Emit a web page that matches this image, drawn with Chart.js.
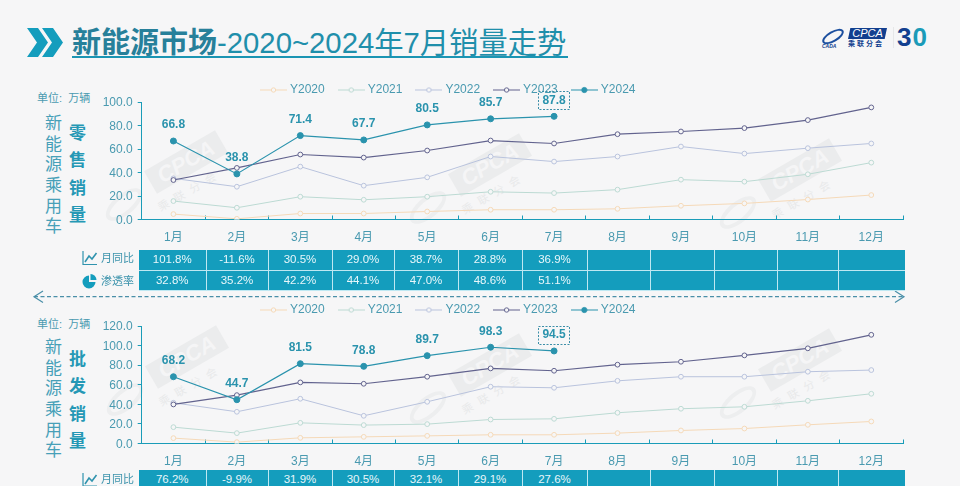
<!DOCTYPE html>
<html>
<head>
<meta charset="utf-8">
<title>新能源市场</title>
<script src="https://cdn.jsdelivr.net/npm/chart.js@4/dist/chart.umd.min.js"></script>
<style>
  html, body { margin: 0; padding: 0; background: #f6f6f7; }
  body { position: relative; width: 960px; height: 486px; overflow: hidden;
         font-family: "Liberation Sans", "Noto Sans CJK SC", sans-serif; color: #3c93ac; }
  .abs { position: absolute; }
  canvas { position: absolute; left: 0; }
  #chartRetail { top: 64px; }
  #chartWholesale { top: 288px; }

  /* title */
  #title { left: 72px; top: 23px; font-size: 29.3px; line-height: 40px; white-space: nowrap;
    color: #1f8fab; border-bottom: 2px solid #1b95b3; height: 33px; width: 496px; }
  #title b { color: #27809a; font-size: 29px; }

  /* logo */
  #logoBox { left: 848px; top: 28px; width: 39px; height: 11px; background: #123f8f; color: #fff;
    font: italic 11px/11px "Liberation Sans"; text-align: center;
    clip-path: polygon(6% 0, 100% 0, 94% 100%, 0 100%); }
  #logoCn { left: 848px; top: 40px; width: 36px; font-size: 7px; line-height: 8px; color: #123f8f;
    font-weight: bold; letter-spacing: 2px; white-space: nowrap; }
  #logoSwoosh { left: 821px; top: 31px; width: 20px; height: 7px; border: 2px solid #1c4f9f;
    border-radius: 50%; transform: rotate(-30deg); }
  #logoE { left: 822px; top: 43px; font: italic bold 5px/6px "Liberation Sans"; color: #123f8f; }
  #logoLine { left: 893px; top: 27px; width: 1px; height: 21px; background: #e6e7e8; }
  #logo30 { left: 897px; top: 25px; font: bold 26px/24px "Liberation Sans"; color: #123f8f; letter-spacing: 1px; }
  #logo30 i { font-style: normal; color: #1b9bb8; }

  /* left side captions */
  .unit { left: 37px; font-size: 11px; line-height: 13px; color: #4a9ab0; white-space: nowrap; }
  .vert { writing-mode: vertical-rl; white-space: nowrap; }
  .car { left: 42px; font-size: 17px; letter-spacing: 3.7px; line-height: 18px; color: #47a0b8; }
  .kind { left: 66px; font-size: 17px; font-weight: bold; letter-spacing: 10.4px; line-height: 18px; color: #2598b5; }

  /* monthly tables */
  table.rates { position: absolute; left: 139px; border-collapse: collapse; table-layout: fixed; width: 766px; }
  table.rates td { background: #149dbd; color: #e8f7fb; border: 1px solid #bfe8f2; border-top-width: 0;
    font-size: 11.5px; text-align: center; padding: 0; height: 19.5px; line-height: 19px; }
  table.rates tr:first-child td { border-top: 0; }
  table.rates td:first-child { border-left: 0; }
  table.rates td:last-child { border-right: 0; }
  .rowname { left: 101px; font-size: 11px; line-height: 14px; color: #3c93ac; white-space: nowrap; }

  .mark { left: 0; top: 0; }

  /* grey CPCA stamps behind the plots */
  .wm { position: absolute; width: 82px; height: 26px; background: #ebeced; color: #f5f5f6;
    font: italic bold 22px/26px "Liberation Sans"; text-align: center; transform: rotate(-30deg); }
  .wmCn { position: absolute; font-size: 11px; line-height: 12px; color: #e8e9ea; letter-spacing: 7px;
    transform: rotate(-30deg); white-space: nowrap; }
  .wmRing { position: absolute; width: 36px; height: 13px; border: 4px solid #edeeef; border-radius: 50%;
    transform: rotate(-40deg); }
</style>
</head>
<body>
<div id="stamps"></div>

<div id="title" class="abs"><b>新能源市场</b>-2020~2024年7月销量走势</div>

<div id="logoSwoosh" class="abs"></div>
<div id="logoE" class="abs">CADA</div>
<div id="logoBox" class="abs">CPCA</div>
<div id="logoCn" class="abs">乘联分会</div>
<div id="logoLine" class="abs"></div>
<div id="logo30" class="abs">3<i>0</i></div>

<div class="abs unit" style="top:92px">单位:&nbsp; 万辆</div>
<div class="abs vert car" style="top:114px">新能源乘用车</div>
<div class="abs vert kind" style="top:124px">零售销量</div>
<div class="abs unit" style="top:318px">单位:&nbsp; 万辆</div>
<div class="abs vert car" style="top:338px">新能源乘用车</div>
<div class="abs vert kind" style="top:350px">批发销量</div>

<canvas id="chartRetail" width="960" height="181"></canvas>
<canvas id="chartWholesale" width="960" height="181"></canvas>

<!-- chevrons, row icons and the double arrow between the two panels -->
<svg class="abs mark" width="960" height="486">
  <path d="M27 28H38L48 42.5L38 57H27L37 42.5ZM42 28H53L63 42.5L53 57H42L52 42.5Z" fill="#149dbd"/>
  <g fill="none" stroke="#2f93ae" stroke-width="1.2">
    <path d="M83 251V264.5H97"/>
    <path d="M85 262L89 256L92 259L96.5 253" stroke-width="1.6"/>
    <path d="M83 473V486H97"/>
    <path d="M85 484L89 478L92 481L96.5 475" stroke-width="1.6"/>
    <path d="M34 296.7H903" stroke-dasharray="4 2.5" stroke="#4a8fa8"/>
    <path d="M43 291L34 296.7L43 302.5M895 291L904 296.7L895 302.5" stroke="#4a8fa8"/>
  </g>
  <path d="M89 275.5A6.5 6.5 0 1 0 95.5 282H89Z" fill="#149dbd"/>
  <path d="M90.5 274A6 6 0 0 1 96.5 280H90.5Z" fill="#149dbd"/>
</svg>
<div class="abs rowname" style="top:251px">月同比</div>
<div class="abs rowname" style="top:274px">渗透率</div>
<div class="abs rowname" style="top:472px">月同比</div>

<table class="rates" id="tableRetail" style="top:250px"></table>
<table class="rates" id="tableWholesale" style="top:470px"></table>

<script>
/* ---------- data ---------- */
const months = ['1月', '2月', '3月', '4月', '5月', '6月', '7月', '8月', '9月', '10月', '11月', '12月'];
const seriesNames = ['Y2020', 'Y2021', 'Y2022', 'Y2023', 'Y2024'];

const retail2020 = [4.6, 0.6, 5.1, 5.1, 6.8, 8.3, 8.3, 9.1, 11.7, 13.7, 17.0, 20.8];
const retail2021 = [15.7, 10.0, 19.4, 16.8, 19.4, 23.6, 22.5, 25.4, 33.9, 32.2, 38.5, 48.4];
const retail2022 = [35.0, 27.9, 45.0, 28.8, 35.9, 53.6, 49.3, 53.6, 62.1, 56.1, 60.7, 64.7];
const retail2023 = [33.6, 43.9, 55.3, 52.7, 58.7, 67.2, 64.7, 72.6, 74.9, 77.8, 84.6, 95.4];
const retail2024 = [66.8, 38.8, 71.4, 67.7, 80.5, 85.7, 87.8];

const whole2020 = [5.5, 1.4, 5.8, 6.8, 7.8, 8.9, 8.9, 10.6, 13.3, 15.3, 19.1, 22.5];
const whole2021 = [16.7, 10.6, 21.1, 18.8, 19.8, 24.5, 25.2, 31.4, 35.5, 37.5, 43.6, 50.8];
const whole2022 = [41.6, 32.4, 45.7, 28.3, 42.6, 58.0, 56.9, 64.0, 68.2, 68.2, 73.3, 75.0];
const whole2023 = [39.9, 49.4, 62.4, 61.0, 68.2, 76.7, 74.3, 80.5, 83.5, 90.0, 97.2, 111.0];
const whole2024 = [68.2, 44.7, 81.5, 78.8, 89.7, 98.3, 94.5];

const retailYoy = ['101.8%', '-11.6%', '30.5%', '29.0%', '38.7%', '28.8%', '36.9%'];
const retailShare = ['32.8%', '35.2%', '42.2%', '44.1%', '47.0%', '48.6%', '51.1%'];
const wholeYoy = ['76.2%', '-9.9%', '31.9%', '30.5%', '32.1%', '29.1%', '27.6%'];

/* ---------- styles ---------- */
const FONT = '"Liberation Sans", "Noto Sans CJK SC", sans-serif';
const TEAL = '#1a9cb8';
const TEXT = '#4a9ab0';
const lineColors = ['#f5d9b8', '#bcdad3', '#b9c3dd', '#62638e', '#2a93ad'];
const cellWidths = [67, 62, 64, 62, 64, 64, 65, 63, 64, 63, 61, 67];
const stampCentres = [[186, 162], [490, 165], [800, 170], [187, 357], [490, 365], [800, 360]];

/* legend swatch: short line with the marker in the middle */
function swatch(color, filled) {
  const c = document.createElement('canvas');
  c.width = 27; c.height = 10;
  const x = c.getContext('2d');
  x.strokeStyle = color;
  x.beginPath(); x.moveTo(0, 5); x.lineTo(27, 5); x.stroke();
  x.beginPath(); x.arc(13.5, 5, filled ? 2.6 : 2.2, 0, Math.PI * 2);
  x.fillStyle = filled ? color : '#f6f6f7';
  x.fill(); x.stroke();
  return c;
}

/* value labels over the Y2024 line, the last one gets a dashed box */
const valueLabels = {
  id: 'valueLabels',
  afterDatasetsDraw(chart) {
    const { ctx } = chart;
    const meta = chart.getDatasetMeta(4);
    const values = chart.data.datasets[4].data;
    ctx.save();
    ctx.font = 'bold 12px ' + FONT;
    ctx.fillStyle = '#2a93ad';
    ctx.textAlign = 'center';
    ctx.textBaseline = 'middle';
    meta.data.forEach((pt, i) => {
      const y = pt.y - 16;
      ctx.fillText(values[i].toFixed(1), pt.x, y);
      if (i === values.length - 1) {
        ctx.setLineDash([2, 1.5]);
        ctx.strokeStyle = '#3d8fa8';
        ctx.lineWidth = 1;
        ctx.strokeRect(Math.round(pt.x - 16) + 0.5, Math.round(y - 9) + 0.5, 31, 18);
      }
    });
    ctx.restore();
  }
};

/* the legend keeps its own x and y, independent of the plot below it */
const legendPlace = {
  id: 'legendPlace',
  beforeDraw(chart, args, opts) {
    chart.legend.left = 247;
    chart.legend.top = opts.top;
  }
};

function makeChart(id, series, yMax, legendTop) {
  return new Chart(document.getElementById(id), {
    type: 'line',
    plugins: [valueLabels, legendPlace],
    data: {
      labels: months,
      datasets: series.map((data, i) => ({
        label: seriesNames[i],
        data,
        borderColor: lineColors[i],
        borderWidth: i >= 3 ? 1.2 : 1,
        backgroundColor: i === 4 ? lineColors[i] : '#f6f6f7',
        pointBackgroundColor: i === 4 ? lineColors[i] : '#f6f6f7',
        pointBorderColor: lineColors[i],
        pointBorderWidth: 1,
        pointRadius: i === 4 ? 3 : 2.4,
        tension: 0,
        order: 5 - i
      }))
    },
    options: {
      responsive: false,
      animation: false,
      layout: { padding: { left: 100, right: 57, top: 0, bottom: 0 } },
      plugins: {
        tooltip: { enabled: false },
        legendPlace: { top: legendTop },
        legend: {
          position: 'top',
          align: 'start',
          labels: {
            font: { size: 12, family: FONT },
            color: TEXT,
            usePointStyle: true,
            pointStyleWidth: 21,
            boxHeight: 12,
            padding: 16,
            generateLabels: chart => chart.data.datasets.map((d, i) => ({
              text: d.label,
              fontColor: TEXT,
              pointStyle: swatch(lineColors[i], i === 4),
              datasetIndex: i
            }))
          }
        }
      },
      scales: {
        x: {
          offset: true,
          grid: { offset: true, drawOnChartArea: false, color: TEAL, tickLength: -4 },
          border: { color: TEAL, width: 1 },
          ticks: { color: TEXT, font: { size: 12, family: FONT }, padding: 15, maxRotation: 0, autoSkip: false },
          afterFit: s => { s.height = 25.5; }
        },
        y: {
          min: 0,
          max: yMax,
          grid: { drawOnChartArea: false, color: TEAL, tickLength: 4 },
          border: { color: TEAL, width: 1 },
          ticks: {
            stepSize: 20, color: TEXT, font: { size: 12, family: FONT }, padding: 5, labelOffset: 1,
            callback: v => v.toFixed(1)
          },
          afterFit: s => { s.width = 41.7; }
        }
      }
    }
  });
}

function fillTable(id, rows) {
  const cols = cellWidths.map(w => `<col style="width:${w}px">`).join('');
  document.getElementById(id).innerHTML = `<colgroup>${cols}</colgroup>` + rows.map(row =>
    '<tr>' + months.map((m, i) => `<td>${row[i] || ''}</td>`).join('') + '</tr>'
  ).join('');
}

document.getElementById('stamps').innerHTML = stampCentres.map(([x, y]) => `
  <div class="wm" style="left:${x - 41}px;top:${y - 13}px">CPCA</div>
  <div class="wmRing" style="left:${x - 84}px;top:${y + 32}px"></div>
  <div class="wmCn" style="left:${x - 32}px;top:${y + 22}px">乘联分会</div>`).join('');

makeChart('chartRetail', [retail2020, retail2021, retail2022, retail2023, retail2024], 100, 4);
makeChart('chartWholesale', [whole2020, whole2021, whole2022, whole2023, whole2024], 120, 0);
fillTable('tableRetail', [retailYoy, retailShare]);
fillTable('tableWholesale', [wholeYoy]);
</script>
</body>
</html>
